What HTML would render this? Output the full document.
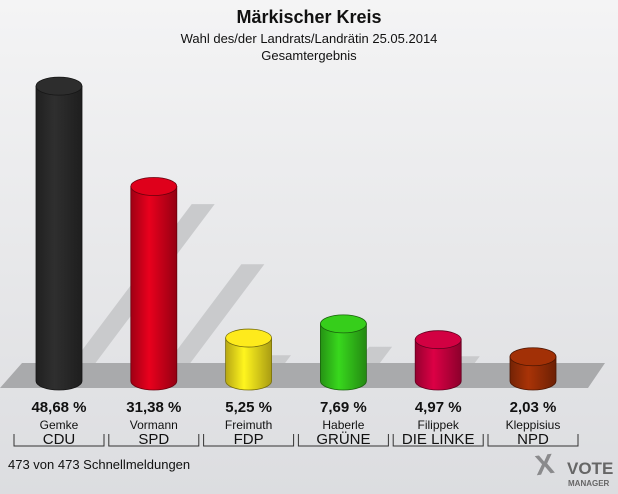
<!DOCTYPE html>
<html><head><meta charset="utf-8"><style>
body{margin:0;background:#e6e7e9}
svg{display:block;font-family:"Liberation Sans",sans-serif}
</style></head><body>
<svg width="618" height="494" viewBox="0 0 618 494">
<defs>
<linearGradient id="bg" x1="0" y1="0" x2="0" y2="1"><stop offset="0" stop-color="#f4f4f5"/><stop offset="1" stop-color="#dcdde0"/></linearGradient>
</defs>
<rect width="618" height="494" fill="url(#bg)"/>
<text x="309" y="23" text-anchor="middle" font-size="18" font-weight="bold" fill="#111">Märkischer Kreis</text>
<text x="309" y="43" text-anchor="middle" font-size="13" fill="#111">Wahl des/der Landrats/Landrätin 25.05.2014</text>
<text x="309" y="60" text-anchor="middle" font-size="13" fill="#111">Gesamtergebnis</text>
<g id="shadows"></g>
<polygon points="22,363 605,363 588,388 0,388" fill="#a9aaac"/>
<g id="bars"></g>
<g id="labels"></g>
<text x="8" y="469" font-size="13" fill="#111">473 von 473 Schnellmeldungen</text>
<g>
<text x="536" y="474" font-size="28" font-weight="bold" fill="#8a8a8c" transform="rotate(-8 545 470)">X</text>
<text x="567" y="474" font-size="17" font-weight="bold" fill="#666">VOTE</text>
<text x="568" y="486" font-size="8" font-weight="bold" fill="#666">MANAGER</text>
</g>
</svg>
<script>
const candidates=["Gemke","Vormann","Freimuth","Haberle","Filippek","Kleppisius"];
const parties=["CDU","SPD","FDP","GRÜNE","DIE LINKE","NPD"];
const values=[48.68,31.38,5.25,7.69,4.97,2.03];
const labels=["48,68 %","31,38 %","5,25 %","7,69 %","4,97 %","2,03 %"];
const colors=["#2b2b2b","#d4001a","#f2df1b","#33c41a","#c8003f","#9a2e06"];
const NS="http://www.w3.org/2000/svg";
const baseY=381, step=94.8, x0=59, rw=23, ry=9;
function xPos(i){return x0+i*step;}
function hPx(v){return 12.5+5.8*v;}
function mk(t,a,p){const e=document.createElementNS(NS,t);for(const k in a)e.setAttribute(k,a[k]);p.appendChild(e);return e;}
function shade(c,f){const n=parseInt(c.slice(1),16);let r=n>>16,g=(n>>8)&255,b=n&255;r=Math.min(255,Math.round(r*f));g=Math.min(255,Math.round(g*f));b=Math.min(255,Math.round(b*f));return `rgb(${r},${g},${b})`;}
const bars=document.getElementById('bars'),sh=document.getElementById('shadows'),lb=document.getElementById('labels');
values.forEach((v,i)=>{
  const cx=xPos(i),h=hPx(v),top=baseY-h;
  const s=mk('polygon',{points:`${cx},${baseY} ${cx+rw},${baseY} ${cx+rw+h*0.45},${baseY-h*0.6} ${cx+h*0.45},${baseY-h*0.6}`,fill:'#c9cacc'},sh);
  
  
  const g=mk('g',{},bars);
  
  
  const gid='g'+i;
  const lg=mk('linearGradient',{id:gid,x1:0,y1:0,x2:1,y2:0},g);
  mk('stop',{offset:0,'stop-color':shade(colors[i],0.75)},lg);
  mk('stop',{offset:0.4,'stop-color':shade(colors[i],1.1)},lg);
  mk('stop',{offset:1,'stop-color':shade(colors[i],0.7)},lg);
  mk('path',{d:`M${cx-rw},${top} L${cx-rw},${baseY} A${rw},${ry} 0 0 0 ${cx+rw},${baseY} L${cx+rw},${top} Z`,fill:`url(#${gid})`,stroke:shade(colors[i],0.5),'stroke-width':0.8},g);
  mk('ellipse',{cx:cx,cy:top,rx:rw,ry:ry,fill:shade(colors[i],1.05),stroke:shade(colors[i],0.5),'stroke-width':0.8},g);
  const t1=mk('text',{x:cx,y:412,'text-anchor':'middle','font-size':15,'font-weight':'bold',fill:'#111'},lb);t1.textContent=labels[i];
  
  const t2=mk('text',{x:cx,y:429,'text-anchor':'middle','font-size':12,fill:'#111'},lb);t2.textContent=candidates[i];
  
  const t3=mk('text',{x:cx,y:444,'text-anchor':'middle','font-size':15,fill:'#111'},lb);t3.textContent=parties[i];
  
  const l=cx-45,r=cx+45;
  const br=mk('path',{d:`M${l},434 L${l},446 L${r},446 L${r},434`,fill:'none',stroke:'#333','stroke-width':1},lb);
  
});
</script>
</body></html>
